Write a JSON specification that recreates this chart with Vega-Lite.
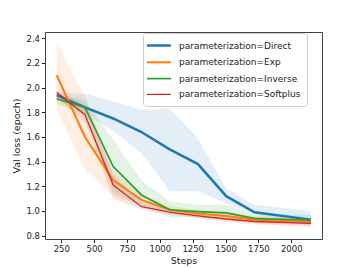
{
  "$schema": "https://vega.github.io/schema/vega-lite/v6.json",
  "width": 277,
  "height": 207,
  "autosize": "none",
  "padding": {"left": 45, "top": 32, "right": 36, "bottom": 29},
  "background": "white",
  "config": {
    "font": "DejaVu Sans",
    "view": {"stroke": "#444", "strokeWidth": 1},
    "axis": {"grid": false, "domain": false, "tickColor": "#222", "tickSize": 3.5, "labelFontSize": 8.5, "labelColor": "#222", "titleFontSize": 9.5, "titleFontWeight": "normal", "titleColor": "#222", "labelOverlap": false, "labelSeparation": 0},
    "legend": {"orient": "none", "legendX": 98, "legendY": 1, "symbolType": "M-1.72,0H3.08", "symbolSize": 100, "labelOffset": 17, "labelFontSize": 9, "labelColor": "#222", "rowPadding": 4.8, "padding": 6, "fillColor": "white", "strokeColor": "#ccc", "cornerRadius": 3}
  },
  "data": {"values": [
    {"p": "parameterization=Direct", "step": 215, "m": 1.94, "lo": 1.90, "hi": 1.96},
    {"p": "parameterization=Direct", "step": 430, "m": 1.84, "lo": 1.79, "hi": 1.95},
    {"p": "parameterization=Direct", "step": 645, "m": 1.75, "lo": 1.65, "hi": 1.89},
    {"p": "parameterization=Direct", "step": 860, "m": 1.64, "lo": 1.47, "hi": 1.82},
    {"p": "parameterization=Direct", "step": 1075, "m": 1.50, "lo": 1.16, "hi": 1.83},
    {"p": "parameterization=Direct", "step": 1290, "m": 1.38, "lo": 1.16, "hi": 1.59},
    {"p": "parameterization=Direct", "step": 1505, "m": 1.12, "lo": 1.06, "hi": 1.18},
    {"p": "parameterization=Direct", "step": 1720, "m": 0.99, "lo": 0.97, "hi": 1.05},
    {"p": "parameterization=Direct", "step": 2150, "m": 0.93, "lo": 0.90, "hi": 1.00},
    {"p": "parameterization=Exp", "step": 215, "m": 2.10, "lo": 1.83, "hi": 2.37},
    {"p": "parameterization=Exp", "step": 430, "m": 1.60, "lo": 1.33, "hi": 1.93},
    {"p": "parameterization=Exp", "step": 645, "m": 1.25, "lo": 1.12, "hi": 1.32},
    {"p": "parameterization=Exp", "step": 860, "m": 1.09, "lo": 1.05, "hi": 1.13},
    {"p": "parameterization=Exp", "step": 1075, "m": 1.01, "lo": 0.98, "hi": 1.04},
    {"p": "parameterization=Exp", "step": 1290, "m": 0.98, "lo": 0.95, "hi": 1.01},
    {"p": "parameterization=Exp", "step": 1505, "m": 0.96, "lo": 0.93, "hi": 0.99},
    {"p": "parameterization=Exp", "step": 1720, "m": 0.93, "lo": 0.90, "hi": 0.96},
    {"p": "parameterization=Exp", "step": 2150, "m": 0.91, "lo": 0.88, "hi": 0.94},
    {"p": "parameterization=Inverse", "step": 215, "m": 1.91, "lo": 1.87, "hi": 1.95},
    {"p": "parameterization=Inverse", "step": 430, "m": 1.84, "lo": 1.78, "hi": 1.90},
    {"p": "parameterization=Inverse", "step": 645, "m": 1.36, "lo": 1.15, "hi": 1.58},
    {"p": "parameterization=Inverse", "step": 860, "m": 1.13, "lo": 1.04, "hi": 1.25},
    {"p": "parameterization=Inverse", "step": 1075, "m": 1.01, "lo": 0.95, "hi": 1.08},
    {"p": "parameterization=Inverse", "step": 1290, "m": 0.995, "lo": 0.95, "hi": 1.05},
    {"p": "parameterization=Inverse", "step": 1505, "m": 0.985, "lo": 0.93, "hi": 1.05},
    {"p": "parameterization=Inverse", "step": 1720, "m": 0.94, "lo": 0.91, "hi": 0.97},
    {"p": "parameterization=Inverse", "step": 2150, "m": 0.925, "lo": 0.89, "hi": 0.97},
    {"p": "parameterization=Softplus", "step": 215, "m": 1.96, "lo": 1.92, "hi": 1.98},
    {"p": "parameterization=Softplus", "step": 430, "m": 1.78, "lo": 1.72, "hi": 1.86},
    {"p": "parameterization=Softplus", "step": 645, "m": 1.21, "lo": 1.10, "hi": 1.30},
    {"p": "parameterization=Softplus", "step": 860, "m": 1.035, "lo": 1.01, "hi": 1.07},
    {"p": "parameterization=Softplus", "step": 1075, "m": 0.99, "lo": 0.97, "hi": 1.02},
    {"p": "parameterization=Softplus", "step": 1290, "m": 0.96, "lo": 0.94, "hi": 0.98},
    {"p": "parameterization=Softplus", "step": 1505, "m": 0.935, "lo": 0.91, "hi": 0.96},
    {"p": "parameterization=Softplus", "step": 1720, "m": 0.915, "lo": 0.89, "hi": 0.94},
    {"p": "parameterization=Softplus", "step": 2150, "m": 0.90, "lo": 0.87, "hi": 0.92}
  ]},
  "encoding": {
    "x": {"field": "step", "type": "quantitative", "title": "Steps", "scale": {"domain": [126, 2234], "nice": false, "zero": false}, "axis": {"values": [250, 500, 750, 1000, 1250, 1500, 1750, 2000], "format": "d", "titlePadding": 2}},
    "y": {"field": "m", "type": "quantitative", "title": "Val loss (epoch)", "scale": {"domain": [0.773, 2.451], "nice": false, "zero": false}, "axis": {"values": [0.8, 1.0, 1.2, 1.4, 1.6, 1.8, 2.0, 2.2, 2.4], "format": ".1f", "titlePadding": 4, "labelOverlap": false}}
  },
  "layer": [
    {
      "mark": {"type": "area", "fillOpacity": 0.12},
      "encoding": {
        "y": {"field": "lo", "type": "quantitative", "title": "Val loss (epoch)", "scale": {"domain": [0.773, 2.451], "nice": false, "zero": false}, "axis": {"values": [0.8, 1.0, 1.2, 1.4, 1.6, 1.8, 2.0, 2.2, 2.4], "format": ".1f", "titlePadding": 4, "labelOverlap": false}},
        "y2": {"field": "hi"},
        "fill": {"field": "p", "type": "nominal", "scale": {"domain": ["parameterization=Direct", "parameterization=Exp", "parameterization=Inverse", "parameterization=Softplus"], "range": ["#1f77b4", "#ff7f0e", "#2ca02c", "#d62728"]}, "legend": null}
      }
    },
    {
      "mark": {"type": "line"},
      "encoding": {
        "color": {"field": "p", "type": "nominal", "title": null, "scale": {"range": ["#1f77b4", "#ff7f0e", "#2ca02c", "#d62728"]}},
        "strokeWidth": {"field": "p", "type": "nominal", "title": null, "scale": {"range": [2.5, 1.3, 1.3, 1.3]}}
      }
    }
  ]
}
